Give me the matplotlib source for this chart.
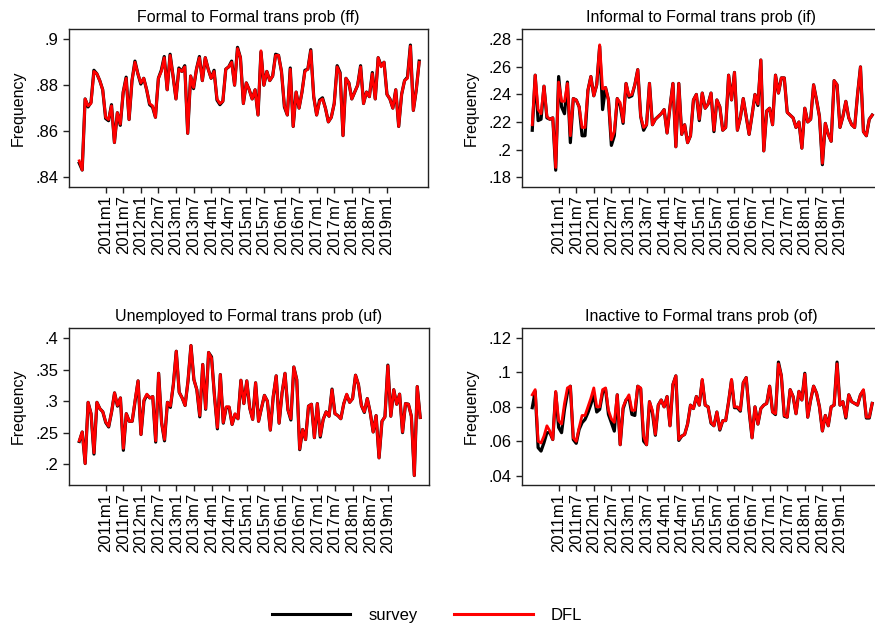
import matplotlib
matplotlib.use('Agg')
from matplotlib import pyplot as plt
from matplotlib.lines import Line2D

plt.rcParams['font.family'] = ['Liberation Sans', 'DejaVu Sans']

# monthly periods, 2010m4 .. 2019m12
months = []
for yr in range(2010, 2020):
    for mo in range(1, 13):
        if yr == 2010 and mo < 4:
            continue
        months.append(f'{yr}m{mo}')

tick_labels = ['2011m1', '2011m7', '2012m1', '2012m7', '2013m1', '2013m7',
               '2014m1', '2014m7', '2015m1', '2015m7', '2016m1', '2016m7',
               '2017m1', '2017m7', '2018m1', '2018m7', '2019m1']

ff_dfl = [.847, .843, .874, .871, .872, .886, .885, .882, .878, .866,
          .865, .871, .855, .868, .863, .877, .883, .865, .882, .890,
          .885, .881, .883, .878, .872, .871, .866, .883, .886, .892,
          .878, .893, .884, .874, .887, .886, .888, .859, .884, .879,
          .887, .892, .882, .892, .887, .883, .886, .874, .872, .873,
          .887, .888, .890, .880, .896, .892, .872, .881, .878, .874,
          .878, .867, .895, .880, .886, .882, .884, .893, .893, .886,
          .871, .867, .887, .862, .877, .870, .877, .886, .887, .895,
          .875, .867, .873, .874, .870, .864, .866, .872, .888, .885,
          .858, .883, .881, .874, .877, .880, .888, .872, .877, .875,
          .885, .874, .892, .888, .890, .876, .874, .870, .878, .862,
          .876, .882, .883, .897, .869, .878, .890]
ff_survey = [.846, .843, .874, .8705, .8725, .8865, .885, .882, .878, .8655,
             .8645, .8715, .855, .868, .8625, .877, .8835, .865, .882, .8905,
             .885, .8805, .883, .878, .8715, .8705, .866, .883, .8865, .8925,
             .878, .8935, .884, .874, .8875, .886, .8885, .859, .884, .8785,
             .887, .8925, .882, .892, .887, .883, .8865, .8735, .8715, .873,
             .887, .888, .8905, .880, .8965, .892, .872, .881, .878, .874,
             .878, .867, .8945, .880, .886, .882, .884, .8935, .893, .886,
             .8705, .867, .8875, .862, .877, .870, .877, .8865, .887, .8955,
             .875, .867, .8735, .8745, .870, .864, .866, .872, .8885, .8855,
             .858, .883, .881, .874, .877, .880, .8885, .872, .877, .875,
             .8855, .874, .892, .8885, .890, .876, .874, .870, .878, .862,
             .876, .882, .8835, .8975, .869, .878, .8905]

if_dfl = [.218, .254, .229, .226, .246, .224, .222, .223, .187, .249,
          .235, .235, .248, .210, .237, .236, .231, .216, .216, .243,
          .253, .239, .247, .276, .244, .245, .236, .207, .213, .237,
          .234, .220, .248, .239, .240, .247, .258, .224, .216, .218,
          .248, .218, .222, .224, .226, .229, .212, .231, .248, .202,
          .248, .211, .218, .205, .210, .236, .240, .222, .241, .230,
          .233, .241, .214, .236, .231, .214, .216, .254, .236, .256,
          .214, .223, .237, .224, .211, .225, .240, .233, .265, .199,
          .228, .230, .218, .254, .241, .252, .252, .227, .225, .223,
          .216, .220, .201, .230, .220, .222, .247, .236, .224, .190,
          .219, .211, .206, .250, .247, .216, .224, .235, .223, .218,
          .216, .240, .260, .213, .210, .222, .225]
if_survey = [.214, .254, .221, .222, .246, .223, .222, .223, .185, .253,
             .231, .226, .249, .205, .237, .236, .231, .210, .210, .243,
             .253, .239, .247, .275, .229, .245, .236, .203, .210, .237,
             .232, .219, .248, .238, .239, .247, .258, .224, .214, .218,
             .248, .218, .222, .224, .226, .229, .212, .231, .248, .202,
             .248, .211, .218, .205, .210, .236, .240, .221, .241, .230,
             .233, .241, .213, .236, .231, .214, .216, .254, .236, .256,
             .214, .223, .237, .224, .211, .225, .240, .232, .265, .199,
             .228, .230, .218, .254, .241, .252, .252, .227, .225, .223,
             .216, .220, .201, .230, .220, .222, .247, .236, .224, .189,
             .219, .211, .206, .250, .247, .216, .224, .235, .223, .218,
             .216, .240, .260, .213, .210, .222, .225]

uf_dfl = [.237, .251, .201, .298, .280, .218, .298, .288, .283, .267,
          .260, .283, .313, .293, .305, .225, .280, .268, .268, .302,
          .332, .247, .302, .311, .305, .307, .237, .344, .266, .239,
          .298, .292, .326, .379, .314, .305, .293, .332, .388, .334,
          .318, .277, .358, .288, .377, .368, .308, .258, .342, .266,
          .291, .291, .263, .280, .272, .333, .296, .332, .289, .271,
          .329, .268, .289, .309, .300, .254, .308, .340, .265, .313,
          .344, .286, .272, .354, .334, .224, .255, .239, .292, .295,
          .242, .296, .245, .271, .283, .276, .318, .280, .277, .272,
          .296, .311, .298, .304, .341, .326, .293, .283, .304, .282,
          .251, .277, .210, .268, .275, .356, .276, .318, .295, .311,
          .251, .296, .295, .276, .182, .323, .274]
uf_survey = [.236, .251, .201, .298, .280, .216, .298, .288, .283, .266,
             .259, .283, .313, .292, .305, .222, .280, .268, .268, .300,
             .332, .247, .300, .310, .305, .307, .235, .344, .266, .237,
             .298, .290, .326, .379, .314, .305, .293, .332, .388, .334,
             .318, .275, .358, .287, .377, .370, .308, .256, .342, .265,
             .290, .290, .263, .279, .272, .333, .296, .332, .289, .271,
             .329, .268, .289, .309, .300, .254, .307, .340, .265, .313,
             .344, .286, .270, .354, .334, .223, .255, .239, .292, .295,
             .242, .296, .243, .271, .283, .276, .319, .280, .277, .272,
             .296, .310, .298, .304, .341, .326, .293, .282, .304, .282,
             .251, .277, .210, .268, .275, .357, .276, .318, .295, .311,
             .250, .296, .295, .276, .182, .323, .274]

of_dfl = [.087, .090, .060, .059, .063, .069, .066, .061, .089, .072,
          .070, .082, .091, .092, .062, .060, .068, .075, .075, .080,
          .085, .091, .080, .080, .090, .091, .078, .073, .071, .087,
          .058, .080, .084, .087, .078, .078, .092, .091, .063, .058,
          .083, .078, .064, .081, .084, .080, .086, .069, .093, .098,
          .061, .063, .064, .070, .081, .079, .086, .081, .096, .081,
          .080, .071, .069, .077, .067, .072, .072, .083, .096, .080,
          .080, .078, .094, .097, .078, .062, .080, .070, .079, .081,
          .082, .092, .077, .076, .105, .098, .075, .074, .090, .086,
          .076, .089, .084, .099, .074, .084, .092, .088, .080, .066,
          .075, .069, .080, .081, .105, .081, .083, .074, .087, .083,
          .082, .081, .087, .090, .074, .074, .082]
of_survey = [.0795, .089, .0563, .0543, .0592, .065, .065, .061, .0885, .068,
             .065, .0785, .088, .092, .061, .0588, .0669, .0708, .0727, .0766,
             .0814, .0872, .077, .0785, .0882, .0905, .0756, .0708, .0659, .087,
             .058, .0789, .084, .0853, .0756, .075, .092, .0905, .0601, .058,
             .083, .0766, .0635, .081, .084, .080, .086, .069, .093, .098,
             .0605, .063, .064, .070, .081, .079, .086, .081, .0955, .081,
             .080, .0705, .069, .077, .0665, .072, .072, .083, .0955, .0795,
             .0795, .0775, .094, .097, .0775, .062, .080, .070, .079, .081,
             .082, .092, .077, .0755, .106, .098, .0745, .074, .090, .086,
             .076, .089, .084, .0995, .074, .084, .092, .088, .080, .066,
             .075, .069, .080, .081, .106, .081, .083, .0735, .087, .083,
             .082, .081, .087, .0895, .0735, .0735, .082]

titles = ['Formal to Formal trans prob (ff)', 'Informal to Formal trans prob (if)',
          'Unemployed to Formal trans prob (uf)', 'Inactive to Formal trans prob (of)']
yticks = [[.84, .86, .88, .9],
          [.18, .2, .22, .24, .26, .28],
          [.2, .25, .3, .35, .4],
          [.04, .06, .08, .1, .12]]
ylims = [(.8356, .9045), (.1728, .2875), (.167, .4158), (.0346, .1258)]
series = [(ff_survey, ff_dfl), (if_survey, if_dfl),
          (uf_survey, uf_dfl), (of_survey, of_dfl)]

W, H = 875, 629
fig = plt.figure(figsize=(W / 100, H / 100), dpi=100)

# axes boxes in pixels: left, top, width, height
boxes = [(69, 29, 359, 158), (522, 29, 359, 158),
         (69, 328, 360, 157), (522, 328, 359, 157)]

x = list(range(len(months)))
tick_pos = [months.index(t) for t in tick_labels]


def stata_fmt(v):
    return f'{v:.2f}'.rstrip('0').lstrip('0')


for i, (l, t, w, h) in enumerate(boxes):
    ax = fig.add_axes([l / W, 1 - (t + h) / H, w / W, h / H])
    survey, dfl = series[i]
    ax.plot(x, survey, color='black', lw=2.3, solid_joinstyle='round')
    ax.plot(x, dfl, color='#ff0000', lw=2.0, solid_joinstyle='round')
    ax.set_xlim(-3.5, 119)
    ax.set_ylim(*ylims[i])
    ax.set_xticks(tick_pos)
    ax.set_xticklabels(tick_labels, rotation=90, fontsize=12)
    ax.set_yticks(yticks[i])
    ax.set_yticklabels([stata_fmt(v) for v in yticks[i]], fontsize=12)
    ax.tick_params(axis='both', direction='out', length=4, width=1,
                   color='#222222')
    ax.tick_params(axis='x', pad=1.5)
    ax.tick_params(axis='y', pad=3.5)
    ax.set_title(titles[i], fontsize=11.5, pad=5)
    ax.set_ylabel('Frequency', fontsize=11.5)
    ax.yaxis.set_label_coords(-43 / w, 0.5)
    for sp in ax.spines.values():
        sp.set_linewidth(1.0)
        sp.set_color('#222222')

handles = [Line2D([], [], color='black', lw=2.2),
           Line2D([], [], color='#ff0000', lw=2.2)]
fig.legend(handles, ['survey', 'DFL'], loc='center', ncol=2, frameon=False,
           bbox_to_anchor=(0.488, 0.022), fontsize=12, handlelength=4.7,
           handletextpad=1.1, columnspacing=2.2)

fig.savefig('out.png', dpi=100)
